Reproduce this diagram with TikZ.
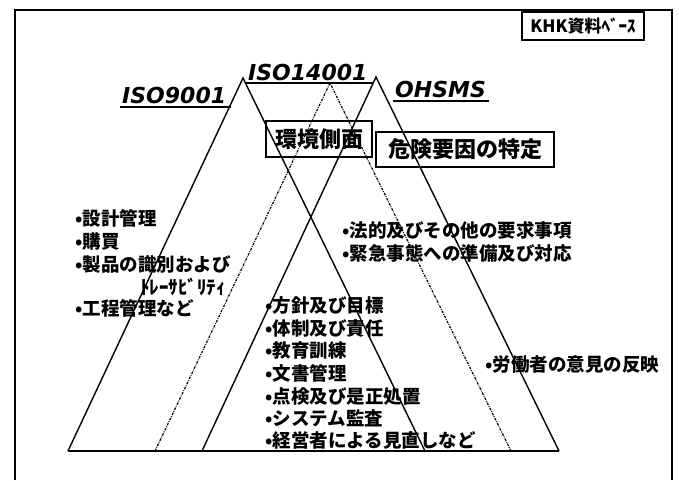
\documentclass[tikz,border=0pt]{standalone}
\usepackage{fontspec}
\newfontfamily\jp{Noto Sans CJK JP}
\newfontfamily\lab{DejaVu Sans}
\begin{document}
\begin{tikzpicture}[x=1pt,y=-1pt,
  tri/.style={line width=1.4pt},
  isodot/.style={line width=1.2pt, dash pattern=on 2.5pt off 1.2pt on 0.8pt off 1.2pt},
  ul/.style={line width=1.5pt},
  lbl/.style={font=\lab\bfseries\itshape\fontsize{22}{22}\selectfont, inner sep=0pt, anchor=base west},
  item/.style={font=\jp\bfseries\fontsize{18.5}{18.5}\selectfont, inner sep=0pt, anchor=base west},
  bx/.style={draw, line width=1.4pt, font=\jp\bfseries\fontsize{22}{22}\selectfont, inner sep=0pt},
]
\useasboundingbox (0,0) rectangle (679,480);
% frame
\coordinate (f1) at (15,480);
\coordinate (f2) at (15,10);
\coordinate (f3) at (672,10);
\coordinate (f4) at (672,480);
\draw[line width=1.5pt] (f1) -- (f2) -- (f3) -- (f4);
\node[draw, line width=1.3pt, minimum width=122pt, minimum height=28pt, inner sep=0pt,
      font=\jp\bfseries\fontsize{17}{17}\selectfont] (khk) at (583,26) {KHK資料ﾍﾞｰｽ};

% triangle corners
\coordinate (a1) at (243,78);
\coordinate (b1) at (68,451);
\coordinate (b2) at (425,451);
\coordinate (a3) at (376,77);
\coordinate (b3) at (202,451);
\coordinate (b4) at (559,451);
\coordinate (d) at (330,83);
\coordinate (b5) at (155,451);
\coordinate (b6) at (511,451);

\draw[tri] (b1) -- (a1) -- (b2);
\draw[tri] (b3) -- (a3) -- (b4);
\draw[tri] (b1) -- (b4);
\draw[isodot] (b5) -- (d) -- (b6);

% labels
\node[lbl] (iso9) at (122,103) {ISO9001};
\node[lbl] (iso14) at (248,80) {ISO14001};
\node[lbl] (ohs) at (395,97) {OHSMS};
\coordinate (u1a) at (120,107); \coordinate (u1b) at (231,107);
\coordinate (u2a) at (245,83); \coordinate (u2b) at (373,83);
\coordinate (u3a) at (393,101); \coordinate (u3b) at (489,101);
\draw[ul] (u1a) -- (u1b);
\draw[ul] (u2a) -- (u2b);
\draw[ul] (u3a) -- (u3b);

% boxes
\node[bx, minimum width=106pt, minimum height=36pt] (kankyo) at (319,139) {環境側面};
\node[bx, minimum width=178pt, minimum height=35pt] (kiken) at (465,149.5) {危険要因の特定};

% left list
\node[item] (l1) at (75,225) {•設計管理};
\node[item] (l2) at (75,248) {•購買};
\node[item] (l3) at (75,271) {•製品の識別および};
\node[item, font=\jp\bfseries\fontsize{19}{19}\selectfont] (l3b) at (140,294) {ﾄﾚｰｻﾋﾞﾘﾃｨ};
\node[item] (l4) at (75,315) {•工程管理など};

% right list
\node[item] (r1) at (342,237) {•法的及びその他の要求事項};
\node[item] (r2) at (342,260) {•緊急事態への準備及び対応};

% centre list
\node[item] (c1) at (265,312) {•方針及び目標};
\node[item] (c2) at (265,335) {•体制及び責任};
\node[item] (c3) at (265,357) {•教育訓練};
\node[item] (c4) at (265,380) {•文書管理};
\node[item] (c5) at (265,403) {•点検及び是正処置};
\node[item] (c6) at (265,425) {•システム監査};
\node[item] (c7) at (265,447) {•経営者による見直しなど};

% far right
\node[item] (w1) at (485,371) {•労働者の意見の反映};
\end{tikzpicture}
\end{document}
